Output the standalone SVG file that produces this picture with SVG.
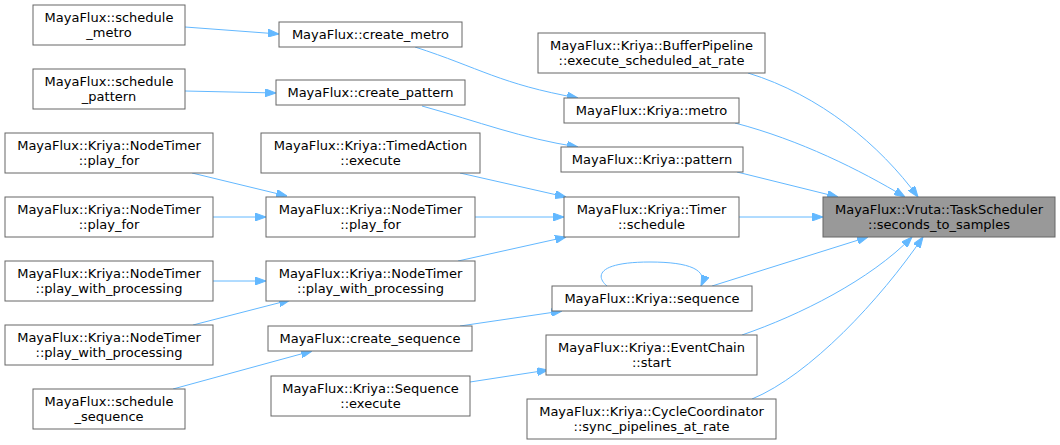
<svg xmlns="http://www.w3.org/2000/svg" width="1060" height="445" viewBox="0 0 1060 445">
<style>
.n rect{fill:#ffffff;stroke:#666666;stroke-width:1}
.t rect{fill:#999999;stroke:#666666;stroke-width:1}
text{font-family:"DejaVu Sans",sans-serif;font-size:13px;fill:#000000;text-anchor:middle}
.e path{fill:none;stroke:#63b8ff;stroke-width:1;marker-end:url(#ah)}
</style>
<defs>
<marker id="ah" viewBox="0 0 11 8" refX="11" refY="4" markerWidth="11" markerHeight="8" markerUnits="userSpaceOnUse" orient="auto">
<path d="M0,0 L11,4 L0,8 z" fill="#63b8ff" stroke="#63b8ff"/>
</marker>
</defs>
<rect width="1060" height="445" fill="#ffffff"/>
<g class="e" id="edges">
<path d="M185,27 L279,34"/>
<path d="M185,91 L276,93"/>
<path d="M415,47 C480,68 500,84 578,98"/>
<path d="M422,106 C480,122 520,138 578,147"/>
<path d="M192,173 L287,196"/>
<path d="M213,217 L266,217"/>
<path d="M213,281 L266,281"/>
<path d="M193,325 L290,300"/>
<path d="M460,173 L566,197"/>
<path d="M475,217 L564,217"/>
<path d="M458,261 L566,237"/>
<path d="M460,326 L562,311"/>
<path d="M173,389 L312,351"/>
<path d="M470,382 L548,370"/>
<path d="M607,286 C595,276 598,262 650,262 C690,262 708,270 701,286"/>
<path d="M748,73 C820,95 880,145 918,197"/>
<path d="M735,123 C800,140 860,170 905,197"/>
<path d="M737,172 L838,197"/>
<path d="M739,217 L823,217"/>
<path d="M712,286 L868,237"/>
<path d="M742,335 C800,315 870,280 912,237"/>
<path d="M752,399 C810,375 880,300 923,237"/>
</g>
<g class="n" id="n_schedule_metro"><rect x="33" y="5" width="152" height="40"/><text x="109" y="21.5">MayaFlux::schedule</text><text x="109" y="36.5">_metro</text></g>
<g class="n" id="n_schedule_pattern"><rect x="33" y="69" width="152" height="40"/><text x="109" y="85.5">MayaFlux::schedule</text><text x="109" y="100.5">_pattern</text></g>
<g class="n" id="n_play_for_a"><rect x="5" y="133" width="208" height="40"/><text x="109" y="149.5">MayaFlux::Kriya::NodeTimer</text><text x="109" y="164.5">::play_for</text></g>
<g class="n" id="n_play_for_b"><rect x="5" y="197" width="208" height="40"/><text x="109" y="213.5">MayaFlux::Kriya::NodeTimer</text><text x="109" y="228.5">::play_for</text></g>
<g class="n" id="n_pwp_a"><rect x="5" y="261" width="208" height="40"/><text x="109" y="277.5">MayaFlux::Kriya::NodeTimer</text><text x="109" y="292.5">::play_with_processing</text></g>
<g class="n" id="n_pwp_b"><rect x="5" y="325" width="208" height="40"/><text x="109" y="341.5">MayaFlux::Kriya::NodeTimer</text><text x="109" y="356.5">::play_with_processing</text></g>
<g class="n" id="n_schedule_sequence"><rect x="33" y="389" width="152" height="40"/><text x="109" y="405.5">MayaFlux::schedule</text><text x="109" y="420.5">_sequence</text></g>
<g class="n" id="n_create_metro"><rect x="279" y="22" width="183" height="25"/><text x="370.5" y="39">MayaFlux::create_metro</text></g>
<g class="n" id="n_create_pattern"><rect x="276" y="80" width="189" height="25"/><text x="370.5" y="97">MayaFlux::create_pattern</text></g>
<g class="n" id="n_timedaction_execute"><rect x="261" y="133" width="219" height="40"/><text x="370.5" y="149.5">MayaFlux::Kriya::TimedAction</text><text x="370.5" y="164.5">::execute</text></g>
<g class="n" id="n_play_for_mid"><rect x="266" y="197" width="209" height="40"/><text x="370.5" y="213.5">MayaFlux::Kriya::NodeTimer</text><text x="370.5" y="228.5">::play_for</text></g>
<g class="n" id="n_pwp_mid"><rect x="266" y="261" width="209" height="40"/><text x="370.5" y="277.5">MayaFlux::Kriya::NodeTimer</text><text x="370.5" y="292.5">::play_with_processing</text></g>
<g class="n" id="n_create_sequence"><rect x="268" y="326" width="204" height="25"/><text x="370" y="343">MayaFlux::create_sequence</text></g>
<g class="n" id="n_sequence_execute"><rect x="271" y="376" width="199" height="40"/><text x="370.5" y="392.5">MayaFlux::Kriya::Sequence</text><text x="370.5" y="407.5">::execute</text></g>
<g class="n" id="n_bufferpipeline"><rect x="538" y="33" width="227" height="40"/><text x="651.5" y="49.5">MayaFlux::Kriya::BufferPipeline</text><text x="651.5" y="64.5">::execute_scheduled_at_rate</text></g>
<g class="n" id="n_kriya_metro"><rect x="564" y="98" width="175" height="25"/><text x="651.5" y="115">MayaFlux::Kriya::metro</text></g>
<g class="n" id="n_kriya_pattern"><rect x="561" y="147" width="182" height="25"/><text x="652" y="164">MayaFlux::Kriya::pattern</text></g>
<g class="n" id="n_timer_schedule"><rect x="564" y="197" width="175" height="40"/><text x="651.5" y="213.5">MayaFlux::Kriya::Timer</text><text x="651.5" y="228.5">::schedule</text></g>
<g class="n" id="n_kriya_sequence"><rect x="552" y="286" width="200" height="25"/><text x="652" y="303">MayaFlux::Kriya::sequence</text></g>
<g class="n" id="n_eventchain_start"><rect x="546" y="335" width="211" height="40"/><text x="651.5" y="351.5">MayaFlux::Kriya::EventChain</text><text x="651.5" y="366.5">::start</text></g>
<g class="n" id="n_cyclecoordinator"><rect x="527" y="399" width="249" height="40"/><text x="651.5" y="415.5">MayaFlux::Kriya::CycleCoordinator</text><text x="651.5" y="430.5">::sync_pipelines_at_rate</text></g>
<g class="t" id="n_seconds_to_samples"><rect x="823" y="197" width="232" height="40"/><text x="939" y="213.5">MayaFlux::Vruta::TaskScheduler</text><text x="939" y="228.5">::seconds_to_samples</text></g>
</svg>
